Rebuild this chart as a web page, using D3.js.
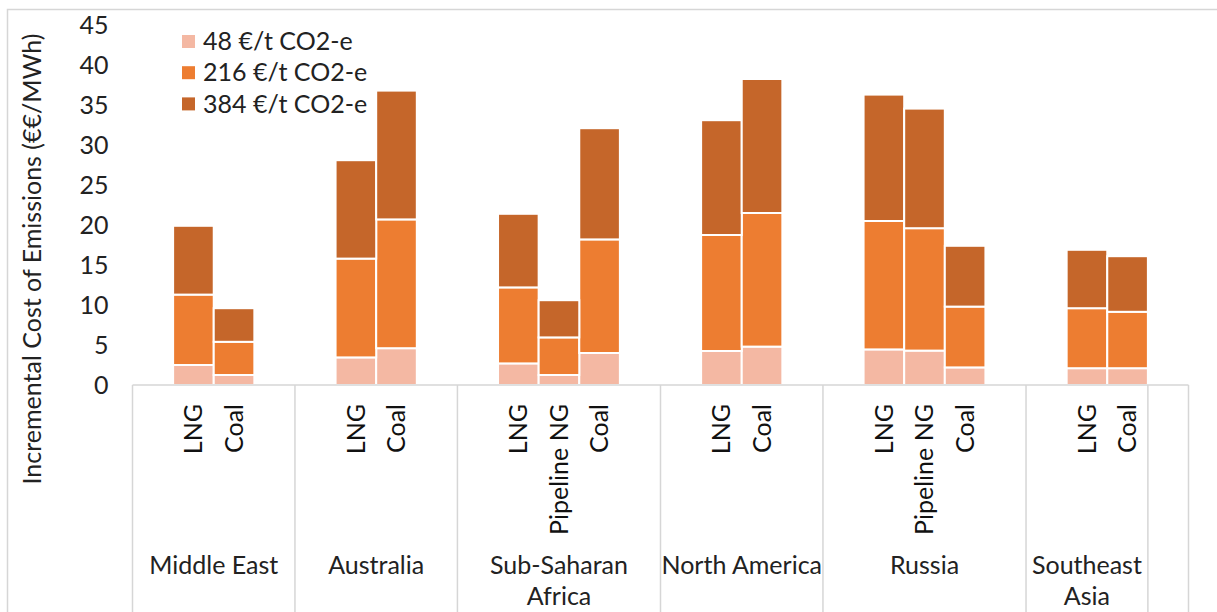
<!DOCTYPE html>
<html>
<head>
<meta charset="utf-8">
<script src="https://cdn.jsdelivr.net/npm/d3@7"></script>
<style>
  html, body { margin: 0; padding: 0; background: #fff; }
  svg { display: block; font-family: Lato, "Open Sans", sans-serif; }
</style>
</head>
<body>
<svg id="chart" width="1217" height="612"></svg>
<script>
// regions (outer category level); the last one is an empty slot like in the source
const regions = ["Middle East", "Australia", "Sub-Saharan\nAfrica", "North America", "Russia", "Southeast\nAsia", ""];
// inner category level, "" = empty slot
const fuelSlots = [
    ["", "LNG", "Coal", ""],
    ["", "LNG", "Coal", ""],
    ["", "LNG", "Pipeline NG", "Coal", ""],
    ["", "LNG", "Coal", ""],
    ["", "LNG", "Pipeline NG", "Coal", ""],
    ["", "LNG", "Coal"],
    [""]
];
const series = ["48 €/t CO2-e", "216 €/t CO2-e", "384 €/t CO2-e"];
const colors = ["#F4B8A3", "#ED7D31", "#C5662A"];
// stacked segment heights, one entry per non-empty fuel slot, left to right
const cost48  = [2.5, 1.25, 3.45, 4.6, 2.7, 1.25, 4.0, 4.25, 4.8, 4.45, 4.3, 2.2, 2.1, 2.1];
const cost216 = [8.8, 4.15, 12.35, 16.1, 9.5, 4.7, 14.2, 14.5, 16.7, 16.05, 15.3, 7.6, 7.5, 7.05];
const cost384 = [8.6, 4.2, 12.3, 16.1, 9.2, 4.65, 13.9, 14.35, 16.75, 15.8, 14.95, 7.6, 7.3, 6.95];
const yTicks = [0, 5, 10, 15, 20, 25, 30, 35, 40, 45];
const yTitle = "Incremental Cost of Emissions (€€/MWh)";

const fs = 25;
const textColor = "#222";
const lineColor = "#d6d6d6";

const svg = d3.select("#chart");

// outer chart border (cropped at right / bottom)
svg.append("rect")
    .attr("x", 7.5).attr("y", 9.5)
    .attr("width", 1400).attr("height", 800)
    .attr("fill", "none")
    .attr("stroke", lineColor)
    .attr("stroke-width", 1.5);

// flatten slots
const slots = [];
const bars = [];
regions.forEach((r, gi) => {
    fuelSlots[gi].forEach((f, fi) => {
        const id = gi + "_" + fi;
        slots.push({ id, region: gi, fuel: f });
        if (f) bars.push({ id, fuel: f });
    });
});
bars.forEach((b, i) => {
    b[series[0]] = cost48[i];
    b[series[1]] = cost216[i];
    b[series[2]] = cost384[i];
});

const x = d3.scaleBand()
    .domain(slots.map(d => d.id))
    .range([132.5, 1188.5])
    .padding(0);

const y = d3.scaleLinear()
    .domain([0, 45])
    .range([385, 25]);

const stack = d3.stack().keys(series);
const stacked = stack(bars);

// bars
svg.append("g")
    .selectAll("g")
    .data(stacked)
    .join("g")
    .attr("fill", (d, i) => colors[i])
    .selectAll("rect")
    .data(d => d)
    .join("rect")
    .attr("x", d => x(d.data.id))
    .attr("width", x.bandwidth())
    .attr("y", d => y(d[1]))
    .attr("height", d => y(d[0]) - y(d[1]))
    .attr("stroke", "#fff")
    .attr("stroke-width", 2);

// y axis
const yAxis = svg.append("g")
    .attr("transform", "translate(132.5,0)")
    .call(d3.axisLeft(y).tickValues(yTicks).tickSize(0).tickPadding(24));
yAxis.select(".domain").remove();
yAxis.selectAll("text")
    .attr("font-family", "Lato, sans-serif")
    .attr("font-size", fs)
    .attr("fill", textColor);

// y title
svg.append("text")
    .attr("transform", "translate(32,259) rotate(-90)")
    .attr("text-anchor", "middle")
    .attr("dy", "0.35em")
    .attr("font-size", fs)
    .attr("fill", textColor)
    .text(yTitle);

// category axis line and group separators
const axisG = svg.append("g")
    .attr("stroke", lineColor)
    .attr("stroke-width", 1.5);
axisG.append("line")
    .attr("x1", x.range()[0]).attr("x2", x.range()[1])
    .attr("y1", 385).attr("y2", 385);

const groupEdges = [x(slots[0].id)];
regions.forEach((r, gi) => {
    const last = slots.filter(s => s.region === gi).pop();
    groupEdges.push(x(last.id) + x.bandwidth());
});
axisG.selectAll("line.sep")
    .data(groupEdges)
    .join("line")
    .attr("class", "sep")
    .attr("x1", d => d).attr("x2", d => d)
    .attr("y1", 385).attr("y2", 640);

// fuel labels (rotated)
svg.append("g")
    .selectAll("text")
    .data(slots.filter(s => s.fuel))
    .join("text")
    .attr("transform", d => `translate(${x(d.id) + x.bandwidth() / 2},404) rotate(-90)`)
    .attr("text-anchor", "end")
    .attr("dy", "0.35em")
    .attr("font-size", fs)
    .attr("fill", "#111")
    .text(d => d.fuel);

// region labels
const regionG = svg.append("g");
regions.forEach((r, gi) => {
    if (!r) return;
    const cx = (groupEdges[gi] + groupEdges[gi + 1]) / 2;
    const t = regionG.append("text")
        .attr("text-anchor", "middle")
        .attr("font-size", fs)
        .attr("fill", textColor);
    r.split("\n").forEach((line, li) => {
        t.append("tspan")
            .attr("x", cx)
            .attr("y", 574 + li * 31)
            .text(line);
    });
});

// legend
const legend = svg.append("g")
    .selectAll("g")
    .data(series)
    .join("g")
    .attr("transform", (d, i) => `translate(182,${41.5 + i * 31.2})`);
legend.append("rect")
    .attr("x", 0).attr("y", -6.5)
    .attr("width", 13).attr("height", 13)
    .attr("fill", (d, i) => colors[i]);
legend.append("text")
    .attr("x", 21)
    .attr("dy", "0.35em")
    .attr("font-size", fs)
    .attr("fill", textColor)
    .text(d => d);
</script>
</body>
</html>
